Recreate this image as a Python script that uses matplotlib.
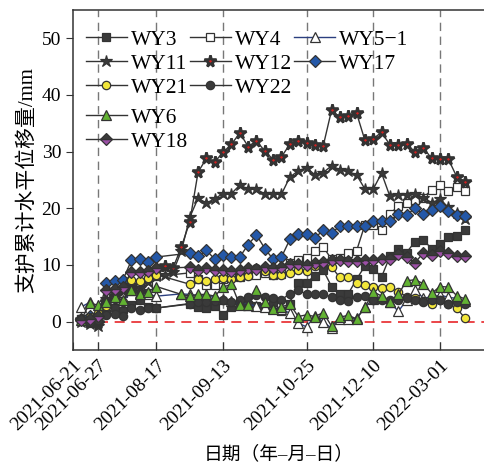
import numpy as np
import matplotlib
matplotlib.use('Agg')
import matplotlib.pyplot as plt

plt.rcParams['font.family'] = ['Liberation Serif', 'Noto Sans CJK SC']
plt.rcParams['axes.unicode_minus'] = True

N = None
# monitoring index (equal spacing between survey dates)
idx = np.arange(47)

tick_pos = [-1, 2, 9, 17, 27, 35, 43]
tick_labels = ['2021-06-21', '2021-06-27', '2021-08-17', '2021-09-13',
               '2021-10-25', '2021-12-10', '2022-03-01']

wy3 = [0.5, -0.3, 0.3, 2.0, 2.5, 2.2, 3.0, 3.8, 2.6, 2.4, N, N, N,
       3.1, 2.6, 2.4, 2.8, 1.2, 2.6, 3.2, 3.0, 2.8, 2.6, 3.4, 1.9, 3.2,
       6.9, 6.9, 8.1, 9.1, 6.2, 4.9, 4.9, 7.5, 9.8, 9.3, 7.9, 11.5, 12.9,
       12.2, 14.1, 14.4, 12.9, 13.7, 14.9, 15.1, 16.1]
wy4 = [0.5, 0.2, 0.8, 3.0, 4.2, 5.0, 5.5, 6.0, 6.5, 8.0, N, N, N,
       8.6, 7.5, 6.5, 6.5, 7.5, 7.9, 7.9, 8.3, 8.2, 8.6, 8.3, 8.4, 10.3,
       10.9, 11.2, 12.4, 13.2, 11.0, 11.2, 12.2, 12.5, 17.1, 17.1, 16.1,
       19.0, 20.4, 21.0, 21.5, 21.9, 23.2, 24.1, 23.1, 23.7, 23.1]
wy5_1 = [2.6, 3.4, 2.0, 3.0, 4.0, 3.5, 5.5, 5.0, 4.8, 4.5, N, N, 4.9,
         4.8, 4.6, 4.5, 4.3, 4.0, 3.6, 3.2, 3.0, 2.8, 2.6, 2.4, 2.2, 1.5,
         -0.3, -0.9, 1.0, 0.0, -1.2, 0.4, 0.5, 0.6, 2.5, 4.0, 4.2, 3.5,
         1.8, 3.8, 5.5, 4.2, 4.3, 4.7, 4.3, 4.1, 3.6]
wy11 = [0.0, -0.5, -0.8, 4.0, 5.0, 6.0, 6.5, 6.0, 7.0, 8.0, 8.2, 8.8, 12.5,
        18.4, 21.8, 20.9, 21.7, 22.6, 22.6, 24.1, 23.4, 23.4, 22.5, 22.5,
        22.5, 25.5, 26.6, 27.2, 25.9, 26.3, 27.5, 26.8, 26.5, 25.9, 23.4,
        23.4, 26.2, 22.1, 22.4, 22.4, 22.5, 21.9, 21.0, 21.6, 20.2, 19.1,
        18.1]
wy12 = [0.2, 0.3, -0.3, 3.5, 4.5, 5.5, 6.0, 5.3, 8.5, 9.0, 9.8, 9.5, 13.2,
        17.6, 26.4, 28.8, 28.2, 29.9, 31.3, 33.3, 30.9, 31.9, 30.1, 28.6,
        29.1, 31.3, 31.9, 31.5, 31.2, 31.0, 37.3, 36.1, 36.3, 36.8, 32.0,
        32.3, 33.4, 31.2, 31.2, 31.3, 30.0, 30.7, 28.8, 28.7, 28.7, 25.6,
        24.7]
wy17 = [0.5, 1.0, 0.8, 6.8, 7.1, 7.4, 10.8, 11.0, 10.6, 11.4, N, N, N,
        12.1, 11.5, 12.6, 11.0, 11.7, 11.4, 11.4, 13.6, 15.3, 12.9, 11.0,
        11.4, 14.5, 15.5, 15.5, 14.7, 16.2, 15.6, 16.9, 16.9, 16.9, 16.9,
        17.8, 17.8, 17.8, 19.0, 18.8, 20.0, 19.0, 19.7, 20.4, 19.6, 18.8,
        18.6]
wy21 = [0.3, 0.8, 1.5, 2.8, 4.0, 3.4, 7.4, 7.2, 7.7, 8.3, N, N, N,
        6.6, 7.5, 7.1, 7.6, 7.7, 7.6, 7.9, 8.0, 9.5, 8.9, 8.3, 8.3, 8.6,
        9.1, 9.0, 9.8, 10.3, 9.6, 7.8, 7.9, 6.9, 6.5, 6.2, 6.0, 6.2, 5.3,
        4.4, 4.1, 3.7, 3.2, 3.8, 3.2, 2.4, 0.6]
wy22 = [0.2, 0.0, 0.3, 1.2, 1.4, 1.0, 2.4, 2.1, 2.4, 2.4, N, N, N,
        3.2, 3.4, 3.5, 3.7, 3.8, 3.4, 3.8, 4.4, 4.7, 4.4, 4.1, 3.9, 4.9,
        5.5, 4.9, 4.9, 4.9, 4.3, 3.8, 3.7, 4.4, 4.5, 3.9, 3.8, 3.8, 3.8,
        4.1, 3.9, 3.4, 3.8, 3.8, 3.2, 3.5, 3.1]
wy6 = [0.3, 3.3, 2.9, 3.5, 4.4, 3.8, 5.6, 4.9, 5.2, 6.2, N, N, 4.8,
       4.5, 4.8, 4.8, 4.5, 6.1, 6.6, 2.9, 3.0, 5.6, 3.5, 2.2, 2.6, 3.1,
       0.9, 1.2, 0.9, 1.6, -0.8, 0.8, 1.1, 0.5, 2.5, 5.3, 4.5, 3.5, 4.8,
       7.2, 7.4, 6.7, 5.0, 6.2, 6.1, 4.6, 4.0]
wy18 = [0.3, 0.5, 1.0, 5.6, 5.7, 6.2, 8.8, 8.8, 9.0, 9.4, N, N, N,
        9.6, 9.2, 9.4, 9.1, 9.2, 9.0, 9.2, 9.5, 9.3, 9.6, 9.4, 9.6, 10.1,
        10.2, 10.0, 10.3, 10.5, 10.9, 10.8, 10.7, 10.7, 10.8, 10.9, 11.0,
        11.0, 11.9, 11.4, 10.4, 12.1, 11.8, 12.5, 12.1, 11.5, 11.6]

ink = '#333333'
styles = {
    'WY3':   dict(data=wy3, marker='s', mfc='#3a3a3a', ms=6),
    'WY4':   dict(data=wy4, marker='s', mfc='white', ms=6),
    'WY5\u22121': dict(data=wy5_1, marker='^', mfc='white', ms=6.5, color='#2b3f7f'),
    'WY11':  dict(data=wy11, marker='*', mfc='#3a3a3a', ms=9),
    'WY12':  dict(data=wy12, marker='*', mfc='#d42020', ms=8.5, mew=1.9),
    'WY17':  dict(data=wy17, marker='D', mfc='#2458a8', ms=6),
    'WY21':  dict(data=wy21, marker='o', mfc='#f2e63a', ms=6),
    'WY22':  dict(data=wy22, marker='o', mfc='#3a3a3a', ms=6),
    'WY6':   dict(data=wy6, marker='^', mfc='#62b232', ms=6.5),
    'WY18':  dict(data=wy18, marker='D', mfc='#9b4fa5', ms=6, fill='bottom'),
}

fig = plt.figure(figsize=(4.85, 4.66), dpi=100)
ax = fig.add_axes([0.1505, 0.249, 0.8495, 0.7296])

lines = {}
for name, st in styles.items():
    y = np.array(st['data'], dtype=float)
    ok = ~np.isnan(y)
    ln, = ax.plot(idx[ok], y[ok], color=st.get('color', ink), lw=1.0,
                  marker=st['marker'], ms=st['ms'], mfc=st['mfc'], mec=ink,
                  mew=st.get('mew', 0.9), fillstyle=st.get('fill', 'full'),
                  markerfacecoloralt='#3a3a3a', label=name)
    lines[name] = ln

for xp in tick_pos[1:]:
    ax.axvline(xp, color='#777777', lw=1.0, ls=(0, (6, 4)), zorder=0)
ax.hlines(0, 2, 48.4, colors='#e8262a', lw=1.2, linestyles=(0, (6, 4)), zorder=0)

ax.set_xlim(-1, 48.4)
ax.set_ylim(-5, 55)
ax.set_yticks([0, 10, 20, 30, 40, 50])
ax.set_xticks(tick_pos)
ax.set_xticklabels(tick_labels, rotation=45, ha='right', va='top',
                   rotation_mode='anchor')
ax.tick_params(axis='x', direction='in', length=6, labelsize=14, pad=5,
               color=ink)
ax.tick_params(axis='y', direction='out', length=5, labelsize=14, color=ink)
for s in ['left', 'bottom', 'top']:
    ax.spines[s].set_color(ink)
    ax.spines[s].set_linewidth(1.1)
ax.spines['right'].set_visible(False)

ax.set_ylabel('支护累计水平位移量/mm', fontsize=15, labelpad=3)
ax.set_xlabel('日期（年–月–日）', fontsize=13.5, labelpad=8)

order1 = ['WY3', 'WY11', 'WY21', 'WY4', 'WY12', 'WY22', 'WY5\u22121', 'WY17']
leg1 = ax.legend([lines[k] for k in order1], order1, ncol=3, frameon=False,
                 loc='upper left', bbox_to_anchor=(0.0, 0.98),
                 fontsize=15.5, handlelength=1.9, handletextpad=0.2,
                 columnspacing=0.08, labelspacing=0.18, borderaxespad=0.2)
ax.add_artist(leg1)
order2 = ['WY6', 'WY18']
ax.legend([lines[k] for k in order2], order2, frameon=False,
          loc='upper left', bbox_to_anchor=(0.0, 0.75),
          fontsize=15.5, handlelength=1.9, handletextpad=0.2,
          labelspacing=0.18, borderaxespad=0.2)

fig.savefig('out.png', dpi=100)
